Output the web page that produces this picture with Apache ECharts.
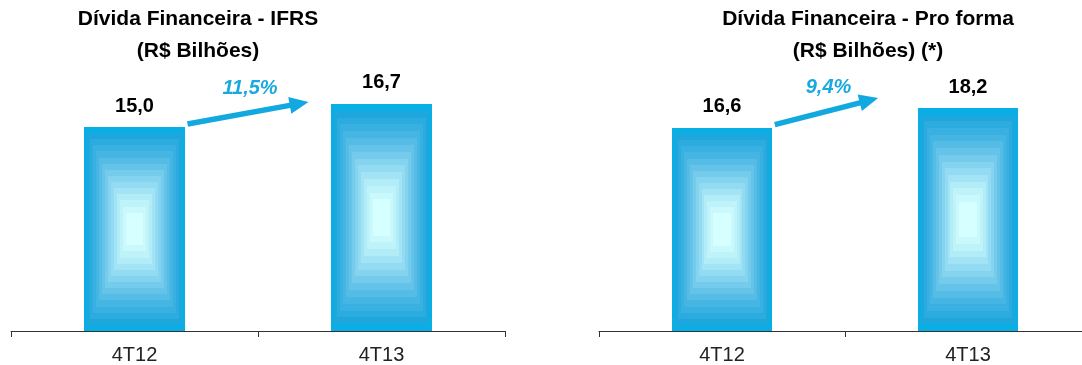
<!DOCTYPE html>
<html>
<head>
<meta charset="utf-8">
<script src="https://cdn.jsdelivr.net/npm/echarts@6/dist/echarts.min.js"></script>
<style>
  html, body { margin: 0; padding: 0; background: #fff; overflow: hidden; }
  #chart { width: 1082px; height: 365px; }
</style>
</head>
<body>
<div id="chart"></div>
<script>
// Quarters on the x axis
const categories = ['4T12', '4T13'];
// Financial debt, R$ billions
const ifrsValues = [15.0, 16.7];
const proFormaValues = [16.6, 18.2];
// Year-over-year growth shown above the arrows
const growthLabels = ['11,5%', '9,4%'];
// Panel titles
const titles = ['Dívida Financeira - IFRS\n(R$ Bilhões)', 'Dívida Financeira - Pro forma\n(R$ Bilhões) (*)'];

const FONT = '"Liberation Sans", Arial, sans-serif';
const BAR_FRACTION = 0.405;

// Colour ramp from the bar edge to its glowing centre
const ramp = [
  [0.00, [8, 174, 228]],
  [0.08, [32, 166, 220]],
  [0.30, [72, 182, 228]],
  [0.55, [128, 208, 238]],
  [0.80, [180, 238, 248]],
  [1.00, [214, 255, 255]]
];
function rampColor(t) {
  for (let i = 1; i < ramp.length; i++) {
    if (t <= ramp[i][0]) {
      const a = ramp[i - 1], b = ramp[i];
      const k = (t - a[0]) / (b[0] - a[0]);
      const c = a[1].map((v, j) => Math.round(v + (b[1][j] - v) * k));
      return 'rgb(' + c.join(',') + ')';
    }
  }
  return 'rgb(' + ramp[ramp.length - 1][1].join(',') + ')';
}

function fmt(v) { return v.toFixed(1).replace('.', ','); }

// Bar drawn as nested rectangles (rectangular glow) with its value label
function renderBar(params, api) {
  const idx = api.value(0);
  const v = api.value(1);
  const base = api.coord([idx, 0]);
  const top = api.coord([idx, v]);
  const bw = api.size([1, 0])[0] * BAR_FRACTION;
  const left = top[0] - bw / 2;
  const h = base[1] - top[1];
  const rings = 15;
  const children = [];
  for (let i = 0; i < rings; i++) {
    const t = i / (rings - 1);
    const ix = Math.round(t * bw / 2 * 0.83);
    const iy = Math.round(t * h / 2 * 0.84);
    const x0 = Math.round(left) + ix, y0 = Math.round(top[1]) + iy;
    const x1 = Math.round(left + bw) - ix, y1 = Math.round(base[1]) - iy;
    children.push({
      type: 'rect',
      shape: { x: x0, y: y0, width: x1 - x0, height: y1 - y0 },
      style: { fill: rampColor(t) }
    });
  }
  children.push({
    type: 'text',
    style: {
      text: fmt(v), x: top[0], y: top[1] - 21,
      align: 'center', verticalAlign: 'middle',
      font: 'bold 20px ' + FONT, fill: '#000'
    }
  });
  return { type: 'group', children: children };
}

// Arrow geometry per panel: gap after the first bar and tip offset before the second
const arrowStyle = [
  { tipGap: 23, tipLift: 2 },
  { tipGap: 40, tipLift: 10 }
];

function makeArrowRenderer(panel) {
  return function (params, api) {
    const p1 = api.coord([api.value(0), api.value(1)]);
    const p2 = api.coord([api.value(2), api.value(3)]);
    const bw = api.size([1, 0])[0] * BAR_FRACTION;
    const s = [p1[0] + bw / 2 + 3, p1[1] - 3];
    const tip = [p2[0] - bw / 2 - arrowStyle[panel].tipGap, p2[1] - arrowStyle[panel].tipLift];
    const dx = tip[0] - s[0], dy = tip[1] - s[1];
    const len = Math.sqrt(dx * dx + dy * dy);
    const u = [dx / len, dy / len];
    const n = [-u[1], u[0]];
    const headLen = 19, headHalf = 8.5, shaftHalf = 2.7;
    const b = [tip[0] - u[0] * headLen, tip[1] - u[1] * headLen];
    const pt = (p, k) => [p[0] + n[0] * k, p[1] + n[1] * k];
    const poly = [pt(s, shaftHalf), pt(b, shaftHalf), pt(b, headHalf), tip,
                  pt(b, -headHalf), pt(b, -shaftHalf), pt(s, -shaftHalf)];
    const mid = [(s[0] + tip[0]) / 2, (s[1] + tip[1]) / 2];
    return {
      type: 'group',
      children: [
        { type: 'polygon', shape: { points: poly }, style: { fill: '#12a9e0' } },
        {
          type: 'text',
          style: {
            text: growthLabels[panel], x: mid[0] + 2, y: mid[1] - 24,
            align: 'center', verticalAlign: 'middle',
            font: 'italic bold 20px ' + FONT, fill: '#1aa9df'
          }
        }
      ]
    };
  };
}

const panels = [ifrsValues, proFormaValues];

const xAxisCommon = {
  type: 'category',
  data: categories,
  axisLine: { lineStyle: { color: '#333', width: 1 } },
  axisTick: { show: true, length: 6, lineStyle: { color: '#333' } },
  axisLabel: { color: '#222', fontSize: 20, fontFamily: FONT, margin: 14 },
  splitLine: { show: false }
};
const yAxisCommon = {
  type: 'value', min: 0, max: 20, show: false, splitLine: { show: false }
};

const titleText = { fontFamily: FONT, fontSize: 21, fontWeight: 'bold', color: '#000', lineHeight: 32 };

const option = {
  animation: false,
  backgroundColor: '#fff',
  title: [
    { text: titles[0], left: 198, top: 3, textAlign: 'center', padding: 0, textStyle: titleText },
    { text: titles[1], left: 868, top: 3, textAlign: 'center', padding: 0, textStyle: titleText }
  ],
  grid: [
    { left: 11, width: 494, top: 59, height: 272, outerBoundsMode: 'none' },
    { left: 599, width: 492, top: 86, height: 245, outerBoundsMode: 'none' }
  ],
  xAxis: [
    Object.assign({ gridIndex: 0 }, xAxisCommon),
    Object.assign({ gridIndex: 1 }, xAxisCommon)
  ],
  yAxis: [
    Object.assign({ gridIndex: 0 }, yAxisCommon),
    Object.assign({ gridIndex: 1 }, yAxisCommon)
  ],
  series: []
};

panels.forEach((vals, p) => {
  option.series.push({
    type: 'custom',
    xAxisIndex: p, yAxisIndex: p,
    renderItem: renderBar,
    data: vals.map((v, i) => [i, v]),
    encode: { x: 0, y: 1 },
    silent: true
  });
  option.series.push({
    type: 'custom',
    xAxisIndex: p, yAxisIndex: p,
    renderItem: makeArrowRenderer(p),
    data: [[0, vals[0], 1, vals[1]]],
    encode: { x: [0, 2], y: [1, 3] },
    silent: true,
    z: 5
  });
});

const chart = echarts.init(document.getElementById('chart'), null, { renderer: 'canvas' });
chart.setOption(option);
</script>
</body>
</html>
